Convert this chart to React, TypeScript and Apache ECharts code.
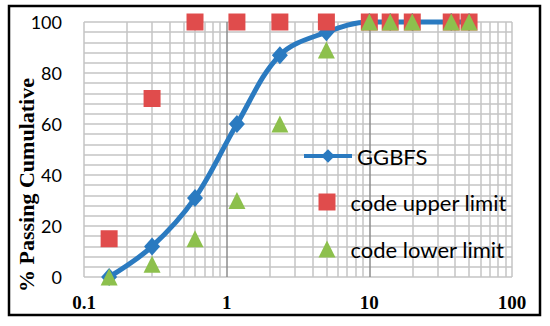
import React, { useEffect, useRef } from "react";
import * as echarts from "echarts";

const sieveSizes = [0.15, 0.3, 0.6, 1.18, 2.36, 5, 10, 14, 20, 37.5, 50];
const ggbfs = [0, 12, 31, 60, 87, 96, 100, 100, 100, 100, 100];
const upperLimit = [15, 70, 100, 100, 100, 100, 100, 100, 100, 100, 100];
const lowerLimit = [0, 5, 15, 30, 60, 89, 100, 100, 100, 100, 100];
const majorX = [1, 10];
const minorX = [
  0.1, 0.2, 0.3, 0.4, 0.5, 0.6, 0.7, 0.8, 0.9,
  2, 3, 4, 5, 6, 7, 8, 9,
  20, 30, 40, 50, 60, 70, 80, 90, 100,
];

const pair = (xs: number[], ys: number[]) => xs.map((x, i) => [x, ys[i]]);

export default function App() {
  const ref = useRef<HTMLDivElement>(null);
  useEffect(() => {
    if (!ref.current) return;
    const chart = echarts.init(ref.current, undefined, { renderer: "svg" });
    const minorLines = minorX.map((v) => ({ xAxis: v, lineStyle: { color: "#c4c4c4", width: 1.5, type: "solid" } }));
    const majorLines = majorX.map((v) => ({ xAxis: v, lineStyle: { color: "#8c8c8c", width: 1.5, type: "solid" } }));
    const legendText = { fontFamily: "Lato", fontSize: 22, color: "#000", lineHeight: 20 };
    chart.setOption({
      animation: false,
      backgroundColor: "#ffffff",
      grid: { left: 84, right: 38, top: 22, bottom: 49, containLabel: false },
      graphic: [
        {
          type: "rect",
          shape: { x: 9, y: 6, width: 531, height: 309 },
          style: { fill: "none", stroke: "#000", lineWidth: 2.5 },
          z: 100,
        },
        {
          type: "text",
          x: 26,
          y: 185,
          rotation: Math.PI / 2,
          style: {
            text: "% Passing Cumulative",
            fontFamily: "Liberation Serif",
            fontWeight: "bold",
            fontSize: 22,
            fill: "#000",
            align: "center",
            verticalAlign: "middle",
          },
        },
      ],
      xAxis: {
        type: "log",
        logBase: 10,
        min: 0.1,
        max: 100,
        axisLine: { show: false },
        axisTick: { show: false },
        splitLine: { show: false },
        axisLabel: {
          fontFamily: "Liberation Serif",
          fontWeight: "bold",
          fontSize: 19,
          color: "#000",
          margin: 16,
          formatter: (v: number) => String(v),
        },
      },
      yAxis: {
        type: "value",
        min: 0,
        max: 100,
        interval: 20,
        axisLine: { show: false },
        axisTick: { show: false },
        splitLine: { show: true, lineStyle: { color: "#c4c4c4", width: 1.5 } },
        minorTick: { show: false, splitNumber: 5 },
        minorSplitLine: { show: true, lineStyle: { color: "#c4c4c4", width: 1.5 } },
        axisLabel: {
          fontFamily: "Lato",
          fontSize: 18,
          color: "#000",
          margin: 22,
        },
      },
      legend: [
        {
          orient: "vertical",
          left: 302,
          top: 145,
          padding: 0,
          itemWidth: 48,
          itemHeight: 17,
          lineStyle: { width: 4 },
          textStyle: legendText,
          data: ["GGBFS"],
        },
        {
          orient: "vertical",
          left: 318.5,
          top: 191,
          padding: 0,
          itemWidth: 17,
          itemHeight: 17,
          itemGap: 25,
          textStyle: { ...legendText, padding: [0, 0, 0, 10] },
          data: ["code upper limit", "code lower limit"],
        },
      ],
      series: [
        {
          name: "grid",
          type: "line",
          data: [],
          silent: true,
          markLine: {
            silent: true,
            symbol: ["none", "none"],
            label: { show: false },
            data: [...minorLines, ...majorLines],
            z: 1,
          },
        },
        {
          name: "GGBFS",
          type: "line",
          data: pair(sieveSizes, ggbfs),
          smooth: 0.35,
          symbol: "diamond",
          symbolSize: [16, 18],
          itemStyle: { color: "#2a7ac0" },
          lineStyle: { color: "#2a7ac0", width: 5 },
          clip: false,
          z: 3,
        },
        {
          name: "code upper limit",
          type: "scatter",
          data: pair(sieveSizes, upperLimit),
          symbol: "rect",
          symbolSize: 17,
          itemStyle: { color: "#e04c4c", opacity: 1 },
          clip: false,
          z: 4,
        },
        {
          name: "code lower limit",
          type: "scatter",
          data: pair(sieveSizes, lowerLimit),
          symbol: "triangle",
          symbolSize: [17, 17],
          itemStyle: { color: "#8dc04d", opacity: 1 },
          clip: false,
          z: 5,
        },
      ],
    });
    return () => chart.dispose();
  }, []);
  return <div ref={ref} style={{ width: 550, height: 326, position: "absolute", left: 0, top: 0 }} />;
}
